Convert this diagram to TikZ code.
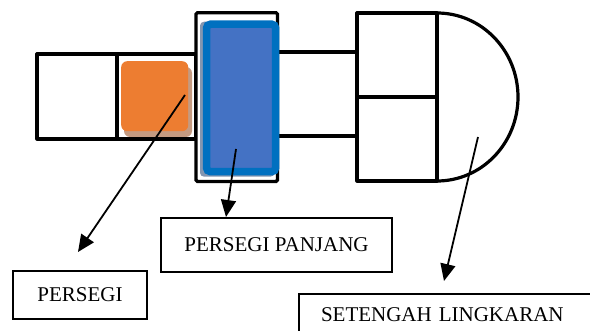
\documentclass[tikz,border=0pt]{standalone}
\usepackage{fontspec}
\setmainfont{Liberation Serif}
\usetikzlibrary{arrows.meta}
\definecolor{orangefill}{RGB}{237,125,49}
\definecolor{orangeshadow}{RGB}{196,154,128}
\definecolor{blueouter}{RGB}{0,112,192}
\definecolor{blueinner}{RGB}{68,114,196}
\definecolor{blueshadow}{RGB}{132,150,176}
\begin{document}
\begin{tikzpicture}[x=1pt,y=-1pt,
  shapeline/.style={line width=3.2pt, line join=round},
  labelbox/.style={draw, line width=2pt, font=\fontsize{21}{24}\selectfont, inner sep=0pt},
  pointer/.style={line width=1.8pt, -{Triangle[length=17pt,width=15pt]}}]
\useasboundingbox (0,0) rectangle (590,331);
\clip (0,0) rectangle (590,331);
% left bar of two squares
\draw[shapeline] (37,54) rectangle (196,139);
\draw[shapeline] (117,54) -- (117,139);
% orange square with shadow
\fill[orangeshadow, rounded corners=6pt] (124,67) rectangle (192,137);
\node[fill=orangefill, rounded corners=6pt, minimum width=67pt, minimum height=70pt, inner sep=0pt, anchor=north west] (sq) at (121,61) {};
% connecting bar to the right part
\draw[shapeline] (277,52) -- (357,52);
\draw[shapeline] (277,136) -- (357,136);
% frame around the blue rectangle
\draw[line width=3.2pt, rounded corners=1.5pt, fill=white] (196,12.7) rectangle (277.5,181.5);
\fill[blueshadow, rounded corners=4pt] (200,21.7) rectangle (274.5,176.7);
\node[fill=blueinner, draw=blueouter, line width=7.5pt, rounded corners=4pt, minimum width=69.2pt, minimum height=147.5pt, inner sep=0pt, anchor=north west] (rect) at (202.75,20.45) {};
% right part: two squares and half circle
\draw[shapeline] (357,13) rectangle (437,181);
\draw[shapeline] (357,97) -- (437,97);
\draw[shapeline] (437,13) arc[start angle=-90, end angle=90, x radius=81, y radius=84];
% labels
\node[labelbox, minimum width=134pt, minimum height=48pt, anchor=north west] (persegi) at (12,270) {PERSEGI};
\node[labelbox, minimum width=231pt, minimum height=54pt, anchor=north west] (panjang) at (160,217) {PERSEGI PANJANG};
\node[labelbox, anchor=north west, minimum height=41pt, text width=290pt, align=left, inner xsep=22pt] (setengah) at (298,292.7) {SETENGAH LINGKARAN};
% pointer ends
\coordinate (a1) at (185,95);
\coordinate (b1) at (78,252);
\coordinate (a2) at (236,149);
\coordinate (a3) at (478,137);
\coordinate (b3) at (444,281);
\draw[pointer] (a1) -- (b1);
\draw[pointer] (a2) -- (panjang.north -| 226,0);
\draw[pointer] (a3) -- (b3);
\end{tikzpicture}
\end{document}
